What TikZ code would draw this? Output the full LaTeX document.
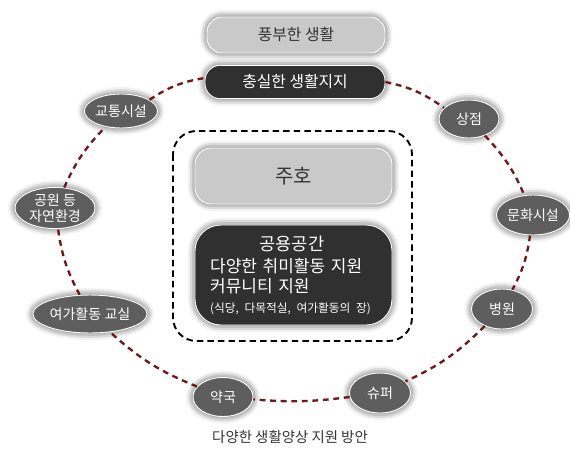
\documentclass[tikz,border=0pt]{standalone}
\usepackage{fontspec}
\setmainfont{Noto Sans CJK KR}
\usetikzlibrary{shadows.blur,shapes.geometric}

\definecolor{boxlight}{HTML}{C9C9C9}
\definecolor{boxdark}{HTML}{303030}
\definecolor{ovalgray}{HTML}{5E5E5E}
\definecolor{textdark}{HTML}{333333}
\definecolor{ringred}{HTML}{701818}

\begin{document}
\begin{tikzpicture}[x=0.03cm,y=-0.03cm,
    glow/.style={blur shadow={shadow xshift=0pt,shadow yshift=0pt,shadow blur radius=6pt,shadow opacity=75}},
    lightbox/.style={fill=boxlight,text=textdark},
    darkbox/.style={fill=boxdark,text=white},
    place/.style={ellipse,draw=white,line width=0.8pt,fill=ovalgray,text=white,glow,inner sep=0pt,
      align=center,font=\fontsize{12pt}{14pt}\selectfont},
    ring/.style={draw=ringred,line width=2pt,dash pattern=on 5pt off 4pt},
    frame/.style={draw=black,line width=1.6pt,dash pattern=on 5.5pt off 3.5pt,rounded corners=20pt}]

  \useasboundingbox (0,0) rectangle (570,448);

  \draw[frame] (173,131) rectangle (412,341);

  \begin{scope}[every node/.style={draw=white,line width=0.8pt,glow,align=center}]
    \node[lightbox,rounded corners=13pt,minimum width=5.34cm,minimum height=1.08cm,
      font=\fontsize{13.5pt}{16pt}\selectfont] (rich) at (296,35) {풍부한 생활};
    \node[darkbox,rounded corners=13pt,minimum width=5.4cm,minimum height=1.0cm,
      font=\fontsize{13.5pt}{16pt}\selectfont] (support) at (295,82) {충실한 생활지지};
    \node[lightbox,rounded corners=14pt,minimum width=5.91cm,minimum height=1.68cm,
      font=\fontsize{17pt}{20pt}\selectfont] (house) at (293.5,176) {주호};
    \node[darkbox,rounded corners=22pt,minimum width=5.91cm,minimum height=3cm,
      text width=5cm,inner xsep=0.455cm,align=left,
      font=\fontsize{14.5pt}{17pt}\selectfont] (common) at (293.5,275)
      {\makebox[4.9cm]{\fontsize{15pt}{17pt}\selectfont 공용공간}\\[2pt]
       다양한 취미활동 지원\\
       커뮤니티 지원\\[0pt]
       {\fontsize{10pt}{12pt}\selectfont (식당, 다목적실, 여가활동의 장)}};
  \end{scope}

  \begin{scope}[every node/.style={place}]
    \node[minimum width=1.8cm,minimum height=1.02cm] (traffic) at (121,111) {교통시설};
    \node[minimum width=1.8cm,minimum height=1.14cm] (shop) at (469,119) {상점};
    \node[minimum width=2.4cm,minimum height=1.2cm] (park) at (55,208) {공원 등\\자연환경};
    \node[minimum width=1.8cm,minimum height=1.2cm] (culture) at (533,215) {문화시설};
    \node[minimum width=3.3cm,minimum height=1.14cm] (leisure) at (90,314) {여가활동 교실};
    \node[minimum width=1.83cm,minimum height=1.2cm] (hospital) at (502,309) {병원};
    \node[minimum width=1.83cm,minimum height=1.2cm] (super) at (380,393) {슈퍼};
    \node[minimum width=1.8cm,minimum height=1.17cm] (pharmacy) at (223,397) {약국};
  \end{scope}

  \begin{scope}[every edge/.style={ring}]
    \path (support)  edge[bend left=12] (shop);
    \path (shop)     edge[bend left=10] (culture);
    \path (culture)  edge[bend left=10] (hospital);
    \path (hospital) edge[bend left=10] (super);
    \path (super)    edge[bend left=6]  (pharmacy);
    \path (pharmacy) edge[bend left=10] (leisure);
    \path (leisure)  edge[bend left=10] (park);
    \path (park)     edge[bend left=10] (traffic);
    \path (traffic)  edge[bend left=12] (support);
  \end{scope}

  \node[text=textdark,font=\fontsize{12.3pt}{14pt}\selectfont] (title) at (290,437) {다양한 생활양상 지원 방안};

\end{tikzpicture}
\end{document}
